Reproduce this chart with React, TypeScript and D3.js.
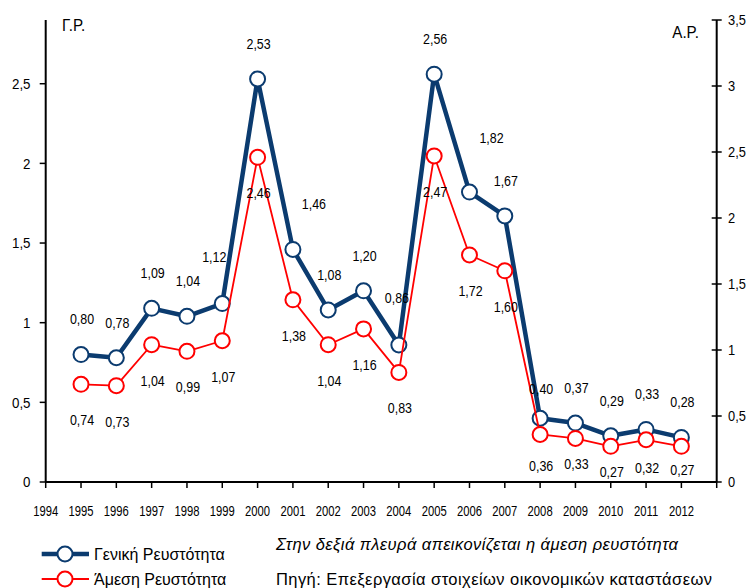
import React from "react";
import * as d3 from "d3";

const years = [1995, 1996, 1997, 1998, 1999, 2000, 2001, 2002, 2003, 2004, 2005, 2006, 2007, 2008, 2009, 2010, 2011, 2012];
const generalLiquidity = [0.8, 0.78, 1.09, 1.04, 1.12, 2.53, 1.46, 1.08, 1.2, 0.86, 2.56, 1.82, 1.67, 0.4, 0.37, 0.29, 0.33, 0.28];
const immediateLiquidity = [0.74, 0.73, 1.04, 0.99, 1.07, 2.46, 1.38, 1.04, 1.16, 0.83, 2.47, 1.72, 1.6, 0.36, 0.33, 0.27, 0.32, 0.27];
const xTickYears = [1994, 1995, 1996, 1997, 1998, 1999, 2000, 2001, 2002, 2003, 2004, 2005, 2006, 2007, 2008, 2009, 2010, 2011, 2012, 2013];
const xLabelYears = [1994, 1995, 1996, 1997, 1998, 1999, 2000, 2001, 2002, 2003, 2004, 2005, 2006, 2007, 2008, 2009, 2010, 2011, 2012];
const leftTicks = [0, 0.5, 1, 1.5, 2, 2.5];
const rightTicks = [0, 0.5, 1, 1.5, 2, 2.5, 3, 3.5];
const seriesNames = ["Γενική Ρευστότητα", "Άμεση Ρευστότητα"];
const leftTitle = "Γ.Ρ.";
const rightTitle = "Α.Ρ.";
const noteText = "Στην δεξιά πλευρά απεικονίζεται η άμεση ρευστότητα";
const sourceText = "Πηγή: Επεξεργασία στοιχείων οικονομικών καταστάσεων";

// label offsets (layout only)
const blueOffsets: Record<number, [number, number]> = {
  1999: [-8, -46],
  2001: [21, -45],
  2004: [-2, -47],
  2006: [22, -54],
  2008: [1, -29],
};
const redOffsets: Record<number, [number, number]> = {
  2008: [1, 32],
  2009: [1, 26],
  2010: [1, 26],
  2011: [1, 28],
  2012: [1, 24],
};

const BLUE = "#0b3b6f";
const RED = "#ff0000";
const FONT = "'Liberation Sans', Arial, sans-serif";

const fmt = (v: number, d: number) => d3.format(`.${d}f`)(v).replace(".", ",");
const fmtTick = (v: number) => String(v).replace(".", ",");

type CTProps = {
  x: number;
  y: number;
  sx?: number;
  size?: number;
  anchor?: "start" | "middle" | "end";
  italic?: boolean;
  children: React.ReactNode;
};

function CText({ x, y, sx = 1, size = 14, anchor = "start", italic = false, children }: CTProps) {
  return (
    <text
      transform={`translate(${x},${y}) scale(${sx},1)`}
      x={0}
      y={0}
      textAnchor={anchor}
      dominantBaseline="central"
      fontFamily={FONT}
      fontSize={size}
      fontStyle={italic ? "italic" : "normal"}
      fill="#000"
    >
      {children}
    </text>
  );
}

export default function App() {
  const W = 748, H = 588;
  const x0 = 45.7, x1 = 716.7, yTop = 20, yBottom = 482;
  const x = d3.scaleLinear().domain([1994, 2013]).range([x0, x1]);
  const yL = d3.scaleLinear().domain([0, 2.9]).range([yBottom, yTop]);
  const yR = d3.scaleLinear().domain([0, 3.5]).range([yBottom, yTop]);

  const blueLine = d3.line<number>().x((_, i) => x(years[i])).y((d) => yL(d))(generalLiquidity) || "";
  const redLine = d3.line<number>().x((_, i) => x(years[i])).y((d) => yR(d))(immediateLiquidity) || "";

  return (
    <svg width={W} height={H} style={{ position: "absolute", left: 0, top: 0, background: "#fff" }}>
      <rect x={0} y={0} width={W} height={H} fill="#fff" />
      {/* left axis */}
      <line x1={x0} x2={x0} y1={yTop} y2={yBottom} stroke="#000" strokeWidth={2} />
      {leftTicks.map((t) => (
        <g key={"l" + t}>
          <line x1={x0 - 6} x2={x0} y1={yL(t)} y2={yL(t)} stroke="#000" strokeWidth={1.5} />
          <CText x={30.5} y={yL(t)} anchor="end" size={15.5} sx={0.86}>
            {fmtTick(t)}
          </CText>
        </g>
      ))}
      {/* right axis */}
      <line x1={x1} x2={x1} y1={yTop} y2={yBottom} stroke="#000" strokeWidth={2} />
      {rightTicks.map((t) => (
        <g key={"r" + t}>
          <line x1={x1 - 5} x2={x1 + 5} y1={yR(t)} y2={yR(t)} stroke="#000" strokeWidth={1.5} />
          <CText x={728} y={yR(t)} size={15.5} sx={0.83}>
            {fmtTick(t)}
          </CText>
        </g>
      ))}
      {/* x axis */}
      <line x1={x0} x2={x1} y1={yBottom} y2={yBottom} stroke="#000" strokeWidth={2} />
      {xTickYears.map((yr) => (
        <line key={"xt" + yr} x1={x(yr)} x2={x(yr)} y1={yBottom} y2={yBottom + 6} stroke="#000" strokeWidth={1.5} />
      ))}
      {xLabelYears.map((yr) => (
        <CText key={"xl" + yr} x={x(yr)} y={511} anchor="middle" size={15} sx={0.75}>
          {yr}
        </CText>
      ))}
      {/* axis titles */}
      <CText x={62} y={25} size={16.5} sx={0.92}>
        {leftTitle}
      </CText>
      <CText x={699} y={32} anchor="end" size={16.5} sx={0.92}>
        {rightTitle}
      </CText>

      {/* series */}
      <path d={blueLine} fill="none" stroke={BLUE} strokeWidth={4.5} strokeLinejoin="round" />
      {generalLiquidity.map((v, i) => (
        <circle key={"bc" + i} cx={x(years[i])} cy={yL(v)} r={7.5} fill="#fff" stroke={BLUE} strokeWidth={2} />
      ))}
      <path d={redLine} fill="none" stroke={RED} strokeWidth={1.8} strokeLinejoin="round" />
      {immediateLiquidity.map((v, i) => (
        <circle key={"rc" + i} cx={x(years[i])} cy={yR(v)} r={7.5} fill="#fff" stroke={RED} strokeWidth={2} />
      ))}

      {/* data labels */}
      {generalLiquidity.map((v, i) => {
        const [dx, dy] = blueOffsets[years[i]] || [1, -35];
        return (
          <CText key={"bl" + i} x={x(years[i]) + dx} y={yL(v) + dy} anchor="middle" size={15} sx={0.83}>
            {fmt(v, 2)}
          </CText>
        );
      })}
      {immediateLiquidity.map((v, i) => {
        const [dx, dy] = redOffsets[years[i]] || [1, 36];
        return (
          <CText key={"rl" + i} x={x(years[i]) + dx} y={yR(v) + dy} anchor="middle" size={15} sx={0.83}>
            {fmt(v, 2)}
          </CText>
        );
      })}

      {/* legend */}
      <line x1={41.7} x2={89} y1={554} y2={554} stroke={BLUE} strokeWidth={4.5} />
      <circle cx={65} cy={554} r={7.5} fill="#fff" stroke={BLUE} strokeWidth={2} />
      <CText x={94} y={554} size={16.5} sx={0.97}>
        {seriesNames[0]}
      </CText>
      <line x1={41.7} x2={89} y1={579} y2={579} stroke={RED} strokeWidth={1.8} />
      <circle cx={65} cy={579} r={7.5} fill="#fff" stroke={RED} strokeWidth={2} />
      <CText x={94} y={579} size={16.5} sx={0.97}>
        {seriesNames[1]}
      </CText>

      {/* notes */}
      <text
        x={276}
        y={543.5}
        dominantBaseline="central"
        fontFamily={FONT}
        fontSize={16.5}
        fontStyle="italic"
        textLength={402}
        lengthAdjust="spacing"
        fill="#000"
      >
        {noteText}
      </text>
      <text
        x={276}
        y={579}
        dominantBaseline="central"
        fontFamily={FONT}
        fontSize={16.5}
        textLength={436}
        lengthAdjust="spacing"
        fill="#000"
      >
        {sourceText}
      </text>
    </svg>
  );
}
